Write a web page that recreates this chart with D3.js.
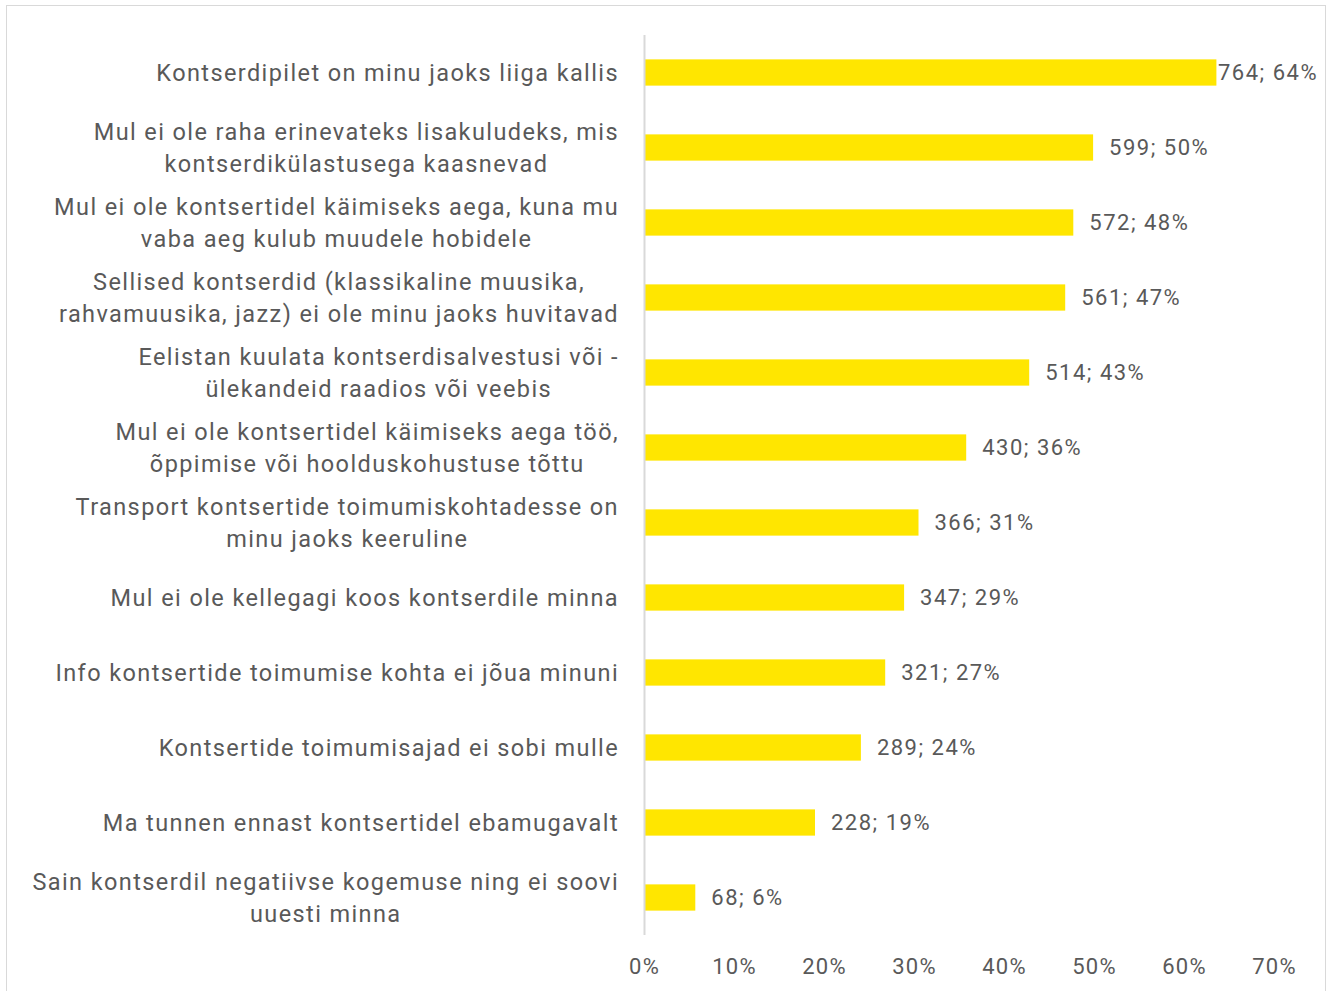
<!DOCTYPE html>
<html>
<head>
<meta charset="utf-8">
<script src="https://cdn.jsdelivr.net/npm/d3@7"></script>
<style>
  body { margin: 0; background: #fff; }
  text { font-family: Roboto, "Noto Sans", sans-serif; font-weight: 400; fill: #595959; }
</style>
</head>
<body>
<div id="chart"></div>
<script>
// data
var categories = [
  ["Kontserdipilet on minu jaoks liiga kallis"],
  ["Mul ei ole raha erinevateks lisakuludeks, mis", "kontserdikülastusega kaasnevad"],
  ["Mul ei ole kontsertidel käimiseks aega, kuna mu", "vaba aeg kulub muudele hobidele"],
  ["Sellised kontserdid (klassikaline muusika,", "rahvamuusika, jazz) ei ole minu jaoks huvitavad"],
  ["Eelistan kuulata kontserdisalvestusi või -", "ülekandeid raadios või veebis"],
  ["Mul ei ole kontsertidel käimiseks aega töö,", "õppimise või hoolduskohustuse tõttu"],
  ["Transport kontsertide toimumiskohtadesse on", "minu jaoks keeruline"],
  ["Mul ei ole kellegagi koos kontserdile minna"],
  ["Info kontsertide toimumise kohta ei jõua minuni"],
  ["Kontsertide toimumisajad ei sobi mulle"],
  ["Ma tunnen ennast kontsertidel ebamugavalt"],
  ["Sain kontserdil negatiivse kogemuse ning ei soovi", "uuesti minna"]
];
var counts = [764, 599, 572, 561, 514, 430, 366, 347, 321, 289, 228, 68];
var shares = [63.6, 49.9, 47.7, 46.8, 42.8, 35.8, 30.5, 28.9, 26.8, 24.1, 19.0, 5.7];
var pctLabels = ["64%", "50%", "48%", "47%", "43%", "36%", "31%", "29%", "27%", "24%", "19%", "6%"];
var tickValues = [0, 10, 20, 30, 40, 50, 60, 70];

var svgWidth = 1330;
var svgHeight = 991;

var margin = { top: 35, right: 56, bottom: 56, left: 644 };
var width = svgWidth - margin.left - margin.right;
var height = svgHeight - margin.top - margin.bottom;

var svg = d3.select("#chart")
  .append("svg")
  .attr("width", svgWidth)
  .attr("height", svgHeight);

// outer frame
svg.append("rect")
  .attr("x", 6.5)
  .attr("y", 5.5)
  .attr("width", 1319)
  .attr("height", 1000)
  .attr("fill", "none")
  .attr("stroke", "#d9d9d9")
  .attr("stroke-width", 1);

var chartGroup = svg.append("g")
  .attr("transform", `translate(${margin.left}, ${margin.top})`);

var idx = d3.range(categories.length);

var xScale = d3.scaleLinear().domain([0, 70]).range([0, 630]);
var yScale = d3.scaleBand().domain(idx).range([0, height]).paddingInner(0.65).paddingOuter(0.325);

// bars
chartGroup.selectAll("rect.bar")
  .data(idx)
  .enter()
  .append("rect")
  .attr("class", "bar")
  .attr("x", 0)
  .attr("y", (i) => yScale(i))
  .attr("width", (i) => xScale(shares[i]))
  .attr("height", yScale.bandwidth())
  .attr("fill", "#ffe600");

// vertical axis line
chartGroup.append("line")
  .attr("x1", 0.5)
  .attr("x2", 0.5)
  .attr("y1", 0)
  .attr("y2", height)
  .attr("stroke", "#d9d9d9")
  .attr("stroke-width", 2);

// x axis tick labels
var xAxis = d3.axisBottom(xScale)
  .tickValues(tickValues)
  .tickFormat((d) => d + "%")
  .tickSize(0)
  .tickPadding(23);

var xAxisG = chartGroup.append("g")
  .attr("transform", `translate(0, ${height})`)
  .call(xAxis);
xAxisG.select(".domain").remove();
xAxisG.selectAll("text")
  .attr("font-size", "22px")
  .attr("font-family", null)
  .attr("letter-spacing", "1.3px")
  .attr("fill", "#595959");

// value labels
var labelRight = 1318 - margin.left;
chartGroup.selectAll("text.val")
  .data(idx)
  .enter()
  .append("text")
  .attr("class", "val")
  .attr("y", (i) => yScale(i) + yScale.bandwidth() / 2)
  .attr("dy", "0.35em")
  .attr("font-size", "22px")
  .attr("letter-spacing", "1.5px")
  .text((i) => counts[i] + "; " + pctLabels[i])
  .attr("x", function (i) {
    var w = this.getComputedTextLength();
    return Math.min(xScale(shares[i]) + 16, labelRight - w);
  });

// category labels, multi-line lines centred in the block
var catRight = 619 - margin.left;
var lineGap = 32;
idx.forEach(function (i) {
  var lines = categories[i];
  var cy = yScale(i) + yScale.bandwidth() / 2;
  var g = chartGroup.append("g");
  var texts = lines.map(function (line, k) {
    return g.append("text")
      .attr("y", cy + (k - (lines.length - 1) / 2) * lineGap)
      .attr("dy", "0.35em")
      .attr("font-size", "23.5px")
      .attr("letter-spacing", "1.4px")
      .attr("text-anchor", "middle")
      .text(line);
  });
  var maxW = d3.max(texts, (t) => t.node().getComputedTextLength());
  texts.forEach((t) => t.attr("x", catRight - maxW / 2));
});
</script>
</body>
</html>
